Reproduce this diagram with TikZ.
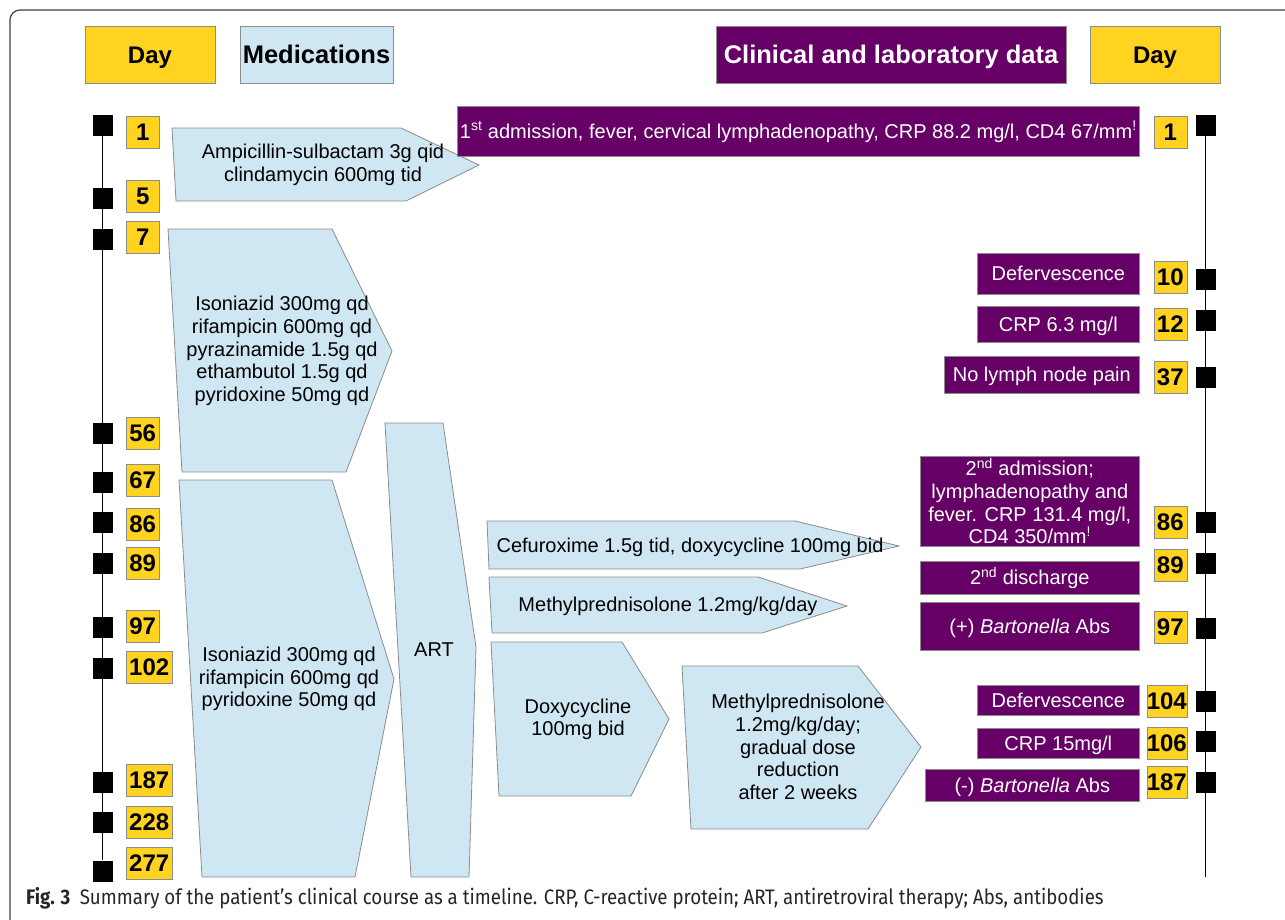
\documentclass[tikz,border=0pt]{standalone}
\usepackage{fontspec}
\setmainfont{Liberation Sans}
\newfontfamily\capfont{Fira Sans}
\usetikzlibrary{positioning}
\definecolor{DayYellow}{HTML}{FFD320}
\definecolor{MedBlue}{HTML}{CFE6F3}
\definecolor{LabPurple}{HTML}{660066}
\definecolor{EdgeGray}{HTML}{8C8C8C}

\tikzset{
  hdr/.style={draw=EdgeGray, minimum height=57, inner sep=0, text height=17.5, text depth=0, font=\bfseries\fontsize{24}{24}\selectfont},
  daybox/.style={fill=DayYellow, draw=EdgeGray, minimum width=33, minimum height=32, inner xsep=3, inner ysep=0, font=\bfseries\fontsize{24}{24}\selectfont},
  sqmark/.style={fill=black, minimum width=20, minimum height=21, inner sep=0},
  labbox/.style={fill=LabPurple, draw=EdgeGray, text=white, align=center, inner sep=0, anchor=east, font=\fontsize{20}{22.6}\selectfont},
  labone/.style={labbox, text height=14.3, text depth=0},
  medshape/.style={fill=MedBlue, draw=EdgeGray, line width=0.8},
  medtext/.style={align=center, font=\fontsize{20}{22.6}\selectfont},
  tline/.style={line width=1.4}
}

\begin{document}
\begin{tikzpicture}[x=1pt, y=-1pt]
        \useasboundingbox (0,0) rectangle (1285,919);
        \clip (0,0) rectangle (1285,919);
        % frame
        \draw[line width=1.2, black!75, rounded corners=10] (10,940) -- (10,10) -- (1300,10);

        % headers
        \node (hdayL) at (150,54.5) [hdr, fill=DayYellow, minimum width=130] {Day};
        \node (hmed) at (316.5,54.5) [hdr, fill=MedBlue, minimum width=153, font=\bfseries\fontsize{25.5}{25.5}\selectfont] {Medications};
        \node (hlab) at (891,54.5) [hdr, fill=LabPurple, text=white, minimum width=350, font=\bfseries\fontsize{25.5}{25.5}\selectfont] {Clinical and laboratory data};
        \node (hdayR) at (1155,54.5) [hdr, fill=DayYellow, minimum width=130] {Day};

        % medications
        \draw[medshape] (172,128) -- (401,128) -- (479,165) -- (406,201) -- (176,201) -- cycle;
        \draw[medshape] (168,229) -- (332,229) -- (392,351) -- (346,472) -- (182,472) -- cycle;
        \draw[medshape] (179,480) -- (332,480) -- (394,679) -- (355,877) -- (202,877) -- cycle;
        \draw[medshape] (385,423) -- (443,423) -- (476,647) -- (469,877) -- (411,877) -- cycle;
        \draw[medshape] (487,521) -- (795,521) -- (899,546) -- (800,569) -- (489,569) -- cycle;
        \draw[medshape] (489,577) -- (758,577) -- (847,606) -- (762,633) -- (492,633) -- cycle;
        \draw[medshape] (491,642) -- (622,642) -- (669,719) -- (631,796) -- (499,796) -- cycle;
        \draw[medshape] (682,666) -- (858,666) -- (921,747) -- (868,829) -- (691,829) -- cycle;

        \node (mamp) at (323,165) [medtext] {Ampicillin-sulbactam 3g qid\\clindamycin 600mg tid};
        \node (miso) at (282,351) [medtext] {Isoniazid 300mg qd\\rifampicin 600mg qd\\pyrazinamide 1.5g qd\\ethambutol 1.5g qd\\pyridoxine 50mg qd};
        \node (miso2) at (289,679) [medtext] {Isoniazid 300mg qd\\rifampicin 600mg qd\\pyridoxine 50mg qd};
        \node (mart) at (434,650) [medtext] {ART};
        \node (mcef) at (690,547) [medtext] {Cefuroxime 1.5g tid, doxycycline 100mg bid};
        \node (mmp) at (668,606) [medtext] {Methylprednisolone 1.2mg/kg/day};
        \node (mdoxy) at (578,719.5) [medtext] {Doxycycline\\100mg bid};
        \node (mmp2) at (798,747) [medtext] {Methylprednisolone\\1.2mg/kg/day;\\gradual dose\\reduction\\after 2 weeks};

        % left timeline
        \node (l1) at (102.5,125.5) [sqmark] {};
        \node (l5) at (102.5,198) [sqmark] {};
        \node (l7) at (102.5,239.5) [sqmark] {};
        \node (l56) at (102.5,433.5) [sqmark] {};
        \node (l67) at (102.5,482) [sqmark] {};
        \node (l86) at (102.5,522) [sqmark] {};
        \node (l89) at (102.5,563.5) [sqmark] {};
        \node (l97) at (102.5,627.5) [sqmark] {};
        \node (l102) at (102.5,668.5) [sqmark] {};
        \node (l187) at (102.5,782) [sqmark] {};
        \node (l228) at (102.5,822) [sqmark] {};
        \node (l277) at (102.5,871) [sqmark] {};
        \draw[tline] (l1) -- (l277);

        \node (dl1) at (126,132) [daybox, anchor=west] {1};
        \node (dl5) at (126,196.5) [daybox, anchor=west] {5};
        \node (dl7) at (126,237) [daybox, anchor=west] {7};
        \node (dl56) at (126,433) [daybox, anchor=west] {56};
        \node (dl67) at (126,480.5) [daybox, anchor=west] {67};
        \node (dl86) at (126,524) [daybox, anchor=west] {86};
        \node (dl89) at (126,563) [daybox, anchor=west] {89};
        \node (dl97) at (126,626) [daybox, anchor=west] {97};
        \node (dl102) at (126,667) [daybox, anchor=west] {102};
        \node (dl187) at (126,780) [daybox, anchor=west] {187};
        \node (dl228) at (126,822) [daybox, anchor=west] {228};
        \node (dl277) at (126,863) [daybox, anchor=west] {277};

        % right timeline
        \node (r1) at (1205.5,125.5) [sqmark] {};
        \node (r10) at (1205.5,279.5) [sqmark] {};
        \node (r12) at (1205.5,320) [sqmark] {};
        \node (r37) at (1205.5,377) [sqmark] {};
        \node (r86) at (1205.5,522) [sqmark] {};
        \node (r89) at (1205.5,563) [sqmark] {};
        \node (r97) at (1205.5,628) [sqmark] {};
        \node (r104) at (1205.5,701) [sqmark] {};
        \node (r106) at (1205.5,741.5) [sqmark] {};
        \node (r187) at (1205.5,782) [sqmark] {};
        \coordinate (rend) at (1205.5,877);
        \draw[tline] (r1) -- (rend);

        \node (dr1) at (1187,132) [daybox, anchor=east] {1};
        \node (dr10) at (1187,277.5) [daybox, anchor=east] {10};
        \node (dr12) at (1187,324.5) [daybox, anchor=east] {12};
        \node (dr37) at (1187,377) [daybox, anchor=east] {37};
        \node (dr86) at (1187,522.5) [daybox, anchor=east] {86};
        \node (dr89) at (1187,565) [daybox, anchor=east] {89};
        \node (dr97) at (1187,627.5) [daybox, anchor=east] {97};
        \node (dr104) at (1187,701) [daybox, anchor=east, inner xsep=0] {104};
        \node (dr106) at (1187,743) [daybox, anchor=east, inner xsep=0] {106};
        \node (dr187) at (1187,782.5) [daybox, anchor=east, inner xsep=0] {187};

        % clinical and laboratory data
        \node (cadm) at (1139.5,131) [labone, minimum width=682, minimum height=50] {1\textsuperscript{st} admission, fever, cervical lymphadenopathy, CRP 88.2 mg/l, CD4 67/mm\textsuperscript{!}};
        \node (cdef) at (1139.5,273.5) [labone, minimum width=162, minimum height=41] {Defervescence};
        \node (ccrp) at (1139.5,324) [labone, minimum width=162, minimum height=36] {CRP 6.3 mg/l};
        \node (clym) at (1139.5,374.8) [labone, minimum width=195, minimum height=37] {No lymph node pain};
        \node (cadm2) at (1139.5,501) [labbox, minimum width=219, minimum height=90] {2\textsuperscript{nd} admission;\\lymphadenopathy and\\fever. CRP 131.4 mg/l,\\CD4 350/mm\textsuperscript{!}};
        \node (cdis) at (1139.5,577.5) [labone, minimum width=219, minimum height=33] {2\textsuperscript{nd} discharge};
        \node (cbp) at (1139.5,626) [labone, minimum width=219, minimum height=48] {(+) \textit{Bartonella} Abs};
        \node (cdef2) at (1139.5,700) [labone, minimum width=162, minimum height=30] {Defervescence};
        \node (ccrp2) at (1139.5,743) [labone, minimum width=162, minimum height=30] {CRP 15mg/l};
        \node (cbn) at (1139.5,785) [labone, minimum width=214, minimum height=32] {(-) \textit{Bartonella} Abs};

        % caption
        \node (cap) at (26,904) [anchor=base west, inner sep=0, text=black!85] {\capfont\fontsize{21}{21}\selectfont\scalebox{0.89}[1]{\textbf{Fig. 3}\hspace{0.5em}Summary of the patient’s clinical course as a timeline. CRP, C-reactive protein; ART, antiretroviral therapy; Abs, antibodies}};
    \end{tikzpicture}
\end{document}
